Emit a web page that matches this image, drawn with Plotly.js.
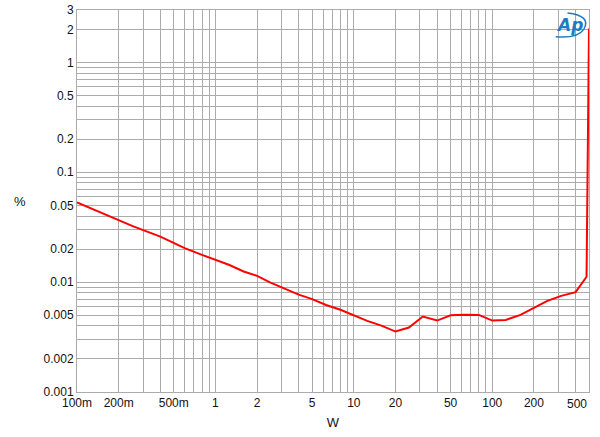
<!DOCTYPE html>
<html>
<head>
<meta charset="utf-8">
<script src="https://cdn.plot.ly/plotly-3.0.1.min.js"></script>
<style>
html,body{margin:0;padding:0;background:#fff;}
#chart{width:600px;height:437px;}
</style>
</head>
<body>
<div id="chart"></div>
<script>
// Power (W)
var powerW = [0.1, 0.2, 0.25, 0.4, 0.6, 0.8, 1, 1.25, 1.6, 2, 2.5, 3.15, 4, 5, 6.3, 8, 10, 12.5, 16, 20, 25, 31.5, 40, 50, 63, 80, 100, 125, 160, 200, 250, 315, 400, 480, 500];
// THD+N (%)
var thdPct = [0.0533, 0.0368, 0.0325, 0.026, 0.0204, 0.0177, 0.0159, 0.0144, 0.0125, 0.0114, 0.0099, 0.0088, 0.0077, 0.0070, 0.0062, 0.0056, 0.0050, 0.00444, 0.0040, 0.00355, 0.00386, 0.00486, 0.00447, 0.0050, 0.00506, 0.00503, 0.00447, 0.00453, 0.00503, 0.0058, 0.00675, 0.0075, 0.0081, 0.0112, 2.04];

var xTickVals = [0.1, 0.2, 0.5, 1, 2, 5, 10, 20, 50, 100, 200, 500];
var xTickText = ["100m", "200m", "500m", "1", "2", "5", "10", "20", "50", "100", "200", "500"];
var yTickVals = [0.001, 0.002, 0.005, 0.01, 0.02, 0.05, 0.1, 0.2, 0.5, 1, 2, 3];
var yTickText = ["0.001", "0.002", "0.005", "0.01", "0.02", "0.05", "0.1", "0.2", "0.5", "1", "2", "3"];

function gridVals(lo, hi) {
  var out = [];
  for (var e = -4; e <= 3; e++) {
    for (var m = 1; m <= 9; m++) {
      var v = m * Math.pow(10, e);
      if (v >= lo * 0.999 && v <= hi * 1.001) out.push(+v.toPrecision(3));
    }
  }
  return out;
}
function buildTicks(lo, hi, vals, texts, hideLast) {
  var g = gridVals(lo, hi);
  var t = g.map(function (v) {
    for (var i = 0; i < vals.length; i++) {
      if (Math.abs(vals[i] - v) / v < 1e-6) return texts[i];
    }
    return "";
  });
  return {vals: g, text: t};
}
var xt = buildTicks(0.1, 500, xTickVals, xTickText);
var yt = buildTicks(0.001, 3, yTickVals, yTickText);
// last x label drawn right-aligned as annotation (as in the reference)
var lastXLabel = xt.text[xt.text.length - 1];
xt.text[xt.text.length - 1] = "";

var fontFam = "Liberation Sans, Arial, sans-serif";
var gridCol = "#ababab";

var trace = {
  x: powerW, y: thdPct, type: "scatter", mode: "lines",
  line: {color: "#ff0000", width: 2}, hoverinfo: "skip"
};

var layout = {
  width: 600, height: 437,
  margin: {l: 77, r: 11, t: 10, b: 45},
  paper_bgcolor: "#ffffff", plot_bgcolor: "#ffffff",
  showlegend: false,
  font: {family: fontFam, size: 12, color: "#111"},
  xaxis: {
    type: "log", range: [-1, Math.log10(500)],
    tickmode: "array", tickvals: xt.vals, ticktext: xt.text,
    ticks: "", showgrid: true, gridcolor: gridCol, gridwidth: 1,
    showline: true, linecolor: gridCol, linewidth: 1, mirror: true,
    zeroline: false,
    tickfont: {family: fontFam, size: 12, color: "#111"},
    title: {text: "W", font: {family: fontFam, size: 13, color: "#111"}, standoff: 8}
  },
  yaxis: {
    type: "log", range: [-3, Math.log10(3)],
    tickmode: "array", tickvals: yt.vals, ticktext: yt.text,
    ticks: "", showgrid: true, gridcolor: gridCol, gridwidth: 1,
    showline: true, linecolor: gridCol, linewidth: 1, mirror: true,
    zeroline: false,
    tickfont: {family: fontFam, size: 12, color: "#111"}
  },
  annotations: [
    {text: "%", xref: "paper", yref: "paper", x: -0.111, y: 0.5,
     xanchor: "center", yanchor: "middle", showarrow: false,
     font: {family: fontFam, size: 13, color: "#111"}},
    {text: lastXLabel, xref: "paper", yref: "paper", x: 1, y: 0,
     xanchor: "right", yanchor: "top", yshift: -3, showarrow: false,
     font: {family: fontFam, size: 12, color: "#111"}},
    {text: "<i><b>Ap</b></i>", xref: "paper", yref: "paper", x: 0.962, y: 0.962,
     xanchor: "center", yanchor: "middle", showarrow: false,
     font: {family: "DejaVu Sans, sans-serif", size: 17, color: "#1f7cc4"}}
  ],
  shapes: [
    {type: "path", xref: "paper", yref: "paper",
     path: "M 0.958,0.992 Q 1.005,0.985 0.990,0.950 Q 0.978,0.925 0.935,0.930",
     line: {color: "#1f7cc4", width: 1.5}}
  ]
};

Plotly.newPlot("chart", [trace], layout, {staticPlot: true, displayModeBar: false});
</script>
</body>
</html>
